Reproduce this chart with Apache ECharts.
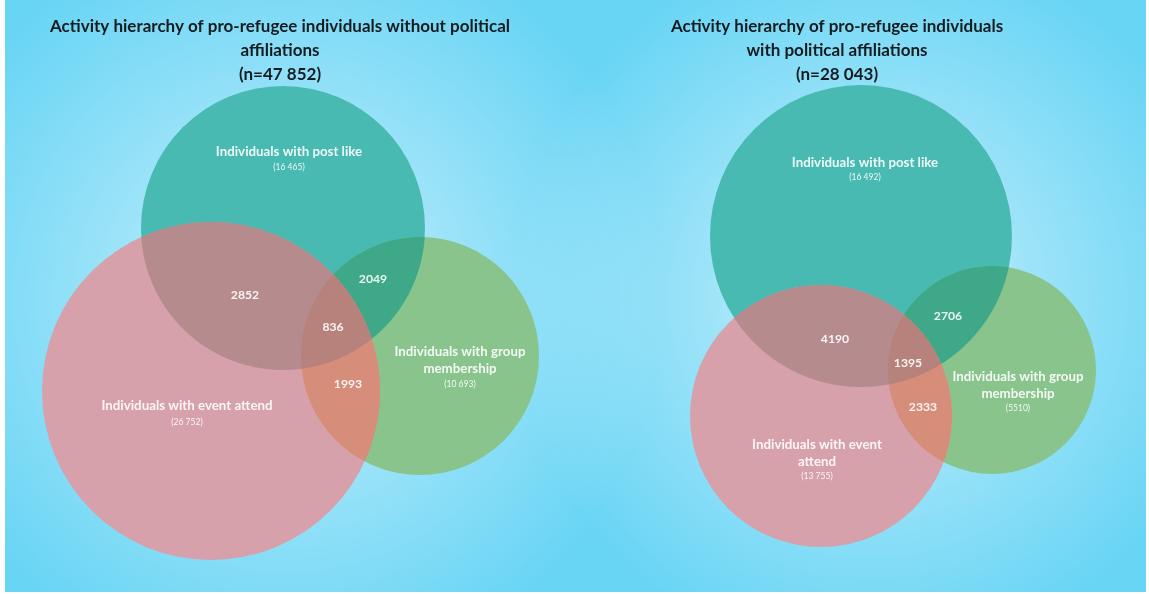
<!DOCTYPE html>
<html>
<head>
<meta charset="utf-8">
<script src="https://cdn.jsdelivr.net/npm/echarts@6/dist/echarts.min.js"></script>
<style>
html,body{margin:0;padding:0;background:#ffffff;}
#chart{width:1149px;height:594px;}
</style>
</head>
<body>
<div id="chart"></div>
<script>
// ---------- DATA ----------
const panelTitles = [
  'Activity hierarchy of pro-refugee individuals without political\naffiliations\n(n=47 852)',
  'Activity hierarchy of pro-refugee individuals\nwith political affiliations\n(n=28 043)'
];
// set order: post like, group membership, event attend
const leftSetNames = ['Individuals with post like', 'Individuals with group\nmembership', 'Individuals with event attend'];
const rightSetNames = ['Individuals with post like', 'Individuals with group\nmembership', 'Individuals with event\nattend'];
const leftSetTotals = ['(16 465)', '(10 693)', '(26 752)'];
const rightSetTotals = ['(16 492)', '(5510)', '(13 755)'];
// overlaps: post∩event, post∩group, event∩group, all three
const leftOverlaps = [2852, 2049, 1993, 836];
const rightOverlaps = [4190, 2706, 2333, 1395];

// ---------- LAYOUT (chart coordinates) ----------
const circleLayout = [
  [[283, 228, 142], [420, 356, 119], [211, 391, 169]],
  [[861, 236, 151], [992, 370, 104], [821, 416, 131]]
];
const nameAnchor = [
  [[289, 152], [460, 360.5], [187, 406]],
  [[865, 163], [1018, 385.5], [817, 453.5]]
];
const totalAnchor = [
  [[289, 167], [460, 384], [187, 422]],
  [[865, 177], [1018, 408], [817, 476]]
];
const overlapAnchor = [
  [[245, 295], [373, 279], [348, 384], [333, 327]],
  [[835, 339], [948, 316], [923, 407], [908, 363]]
];
const titleCenters = [275, 832];

// ---------- STYLES ----------
const regionSets = [[0], [1], [2], [0, 2], [0, 1], [1, 2], [0, 1, 2]];
const regionColors = ['#48bab2', '#88c48c', '#d6a1ab', '#b58b8d', '#3fa888', '#d68d7a', '#b8827c'];
const textColor = 'rgba(255,255,255,0.9)';

function regionPolygon(circles) {
  const pts = [];
  const inside = (p, skip) => circles.every((c, k) => k === skip || Math.hypot(p[0] - c[0], p[1] - c[1]) <= c[2] + 0.01);
  circles.forEach((c, i) => {
    const N = 720;
    for (let s = 0; s < N; s++) {
      const a = s / N * Math.PI * 2;
      const p = [c[0] + c[2] * Math.cos(a), c[1] + c[2] * Math.sin(a)];
      if (inside(p, i)) pts.push(p);
    }
  });
  for (let i = 0; i < circles.length; i++) {
    for (let j = i + 1; j < circles.length; j++) {
      const [x0, y0, r0] = circles[i], [x1, y1, r1] = circles[j];
      const d = Math.hypot(x1 - x0, y1 - y0);
      if (d > r0 + r1 || d < Math.abs(r0 - r1)) continue;
      const a = (r0 * r0 - r1 * r1 + d * d) / (2 * d);
      const h = Math.sqrt(Math.max(0, r0 * r0 - a * a));
      const mx = x0 + a * (x1 - x0) / d, my = y0 + a * (y1 - y0) / d;
      const cand = [[mx + h * (y1 - y0) / d, my - h * (x1 - x0) / d], [mx - h * (y1 - y0) / d, my + h * (x1 - x0) / d]];
      cand.forEach(p => {
        if (circles.every((c, k) => k === i || k === j || Math.hypot(p[0] - c[0], p[1] - c[1]) <= c[2] + 0.01)) pts.push(p);
      });
    }
  }
  let cx = 0, cy = 0;
  pts.forEach(p => { cx += p[0]; cy += p[1]; });
  cx /= pts.length; cy /= pts.length;
  pts.sort((p, q) => Math.atan2(p[1] - cy, p[0] - cx) - Math.atan2(q[1] - cy, q[0] - cx));
  return pts;
}

const regionData = [];
[0, 1].forEach(panel => regionSets.forEach((s, r) => regionData.push([panel, r])));

const labelData = [];
const setNames = [leftSetNames, rightSetNames];
const setTotals = [leftSetTotals, rightSetTotals];
const overlaps = [leftOverlaps, rightOverlaps];
[0, 1].forEach(panel => {
  for (let i = 0; i < 3; i++) {
    labelData.push({ value: [nameAnchor[panel][i][0], nameAnchor[panel][i][1]], text: setNames[panel][i], kind: 'name' });
    labelData.push({ value: [totalAnchor[panel][i][0], totalAnchor[panel][i][1]], text: setTotals[panel][i], kind: 'total' });
  }
  for (let i = 0; i < 4; i++) {
    labelData.push({ value: [overlapAnchor[panel][i][0], overlapAnchor[panel][i][1]], text: String(overlaps[panel][i]), kind: 'num' });
  }
});

const chart = echarts.init(document.getElementById('chart'), null, { renderer: 'canvas' });

const glow = (cx, cy, r) => ({
  type: 'circle', silent: true, z: -9,
  shape: { cx: cx, cy: cy, r: r },
  style: {
    fill: new echarts.graphic.RadialGradient(0.5, 0.5, 0.5, [
      { offset: 0, color: 'rgba(255,255,255,0.75)' },
      { offset: 0.45, color: 'rgba(255,255,255,0.35)' },
      { offset: 1, color: 'rgba(255,255,255,0)' }
    ])
  }
});

chart.setOption({
  animation: false,
  backgroundColor: '#ffffff',
  graphic: [
    { type: 'rect', silent: true, z: -10, shape: { x: 5, y: 0, width: 1141, height: 592 }, style: { fill: '#69d5f5' } },
    {
      type: 'group', z: -9, silent: true,
      clipPath: { type: 'rect', shape: { x: 5, y: 0, width: 1141, height: 592 } },
      children: [glow(285, 300, 380), glow(870, 300, 360)]
    }
  ],
  title: panelTitles.map((t, i) => ({
    text: t,
    left: titleCenters[i],
    top: 10,
    textAlign: 'center',
    textStyle: { fontFamily: 'Lato', fontWeight: 'bold', fontSize: 17, lineHeight: 24, color: '#151c20' }
  })),
  grid: { left: 0, right: 0, top: 0, bottom: 0 },
  xAxis: { type: 'value', min: 0, max: 1149, show: false },
  yAxis: { type: 'value', min: 0, max: 594, inverse: true, show: false },
  series: [
    {
      type: 'custom',
      coordinateSystem: 'cartesian2d',
      silent: true,
      z: 2,
      data: regionData,
      encode: { x: -1, y: -1 },
      renderItem: function (params, api) {
        const panel = api.value(0), r = api.value(1);
        const sets = regionSets[r];
        const circles = sets.map(k => {
          const c = circleLayout[panel][k];
          const p = api.coord([c[0], c[1]]);
          const rr = api.size([c[2], 0])[0];
          return [p[0], p[1], rr];
        });
        if (circles.length === 1) {
          return { type: 'circle', z2: r, shape: { cx: circles[0][0], cy: circles[0][1], r: circles[0][2] }, style: { fill: regionColors[r] } };
        }
        return { type: 'polygon', z2: r, shape: { points: regionPolygon(circles) }, style: { fill: regionColors[r] } };
      }
    },
    {
      type: 'custom',
      coordinateSystem: 'cartesian2d',
      silent: true,
      z: 5,
      data: labelData,
      renderItem: function (params, api) {
        const d = labelData[params.dataIndex];
        const p = api.coord([api.value(0), api.value(1)]);
        const fs = d.kind === 'name' ? 13.3 : (d.kind === 'num' ? 12.2 : 8.5);
        return {
          type: 'text', z2: 10,
          x: p[0], y: p[1],
          style: {
            text: d.text,
            fill: textColor,
            font: (d.kind === 'total' ? 'normal ' : 'bold ') + fs + 'px Lato',
            align: 'center',
            verticalAlign: 'middle',
            lineHeight: 17
          }
        };
      }
    }
  ]
});
</script>
</body>
</html>
